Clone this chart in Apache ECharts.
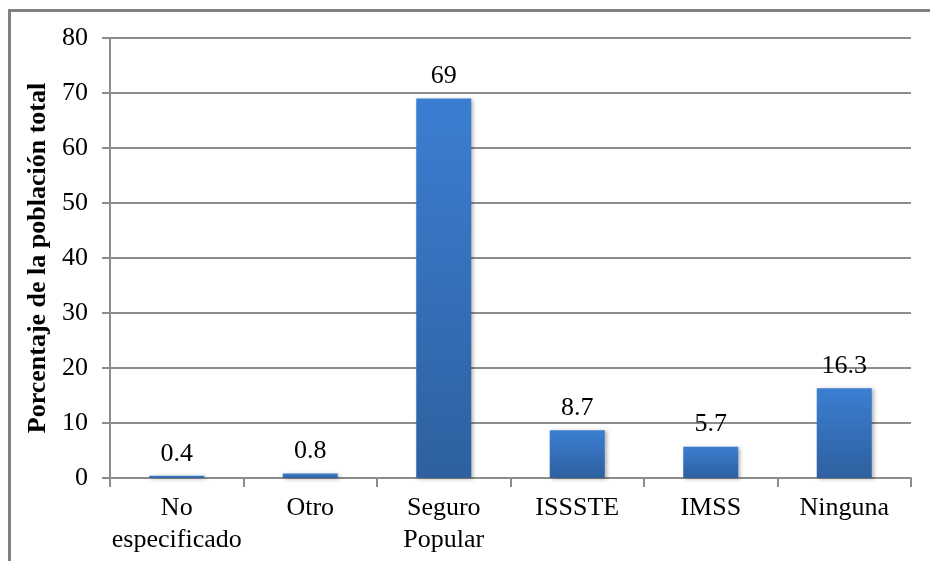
<!DOCTYPE html>
<html><head><meta charset="utf-8">
<script src="https://cdn.jsdelivr.net/npm/echarts@6/dist/echarts.min.js"></script>
<style>html,body{margin:0;padding:0;background:#fff}#c{width:930px;height:561px}</style>
</head><body><div id="c"></div>
<script>
const categories = ['No\nespecificado', 'Otro', 'Seguro\nPopular', 'ISSSTE', 'IMSS', 'Ninguna'];
const values = [0.4, 0.8, 69, 8.7, 5.7, 16.3];
const yTicks = { min: 0, max: 80, interval: 10 };
const yTitle = 'Porcentaje de la población total';

const font = '"Liberation Serif", "Times New Roman", serif';
const chart = echarts.init(document.getElementById('c'));
chart.setOption({
  animation: false,
  backgroundColor: '#fff',
  graphic: [{
    type: 'rect', shape: { x: 9.5, y: 10.5, width: 1000, height: 1000 },
    style: { fill: 'none', stroke: '#808080', lineWidth: 3 }, silent: true
  }],
  grid: { left: 110, right: 19, top: 38, bottom: 83, containLabel: false },
  xAxis: {
    type: 'category', data: categories,
    axisLine: { lineStyle: { color: '#8c8c8c', width: 2 } },
    axisTick: { show: true, length: 9, lineStyle: { color: '#8c8c8c', width: 2 } },
    axisLabel: { color: '#000', fontFamily: font, fontSize: 26, lineHeight: 32, margin: 14, interval: 0 }
  },
  yAxis: {
    type: 'value', min: yTicks.min, max: yTicks.max, interval: yTicks.interval,
    name: yTitle, nameLocation: 'middle', nameGap: 55,
    nameTextStyle: { color: '#000', fontFamily: font, fontSize: 26, fontWeight: 'bold' },
    axisLine: { show: true, lineStyle: { color: '#8c8c8c', width: 2 } },
    axisTick: { show: true, length: 8, lineStyle: { color: '#8c8c8c', width: 2 } },
    axisLabel: { color: '#000', fontFamily: font, fontSize: 26, margin: 22 },
    splitLine: { lineStyle: { color: '#8c8c8c', width: 2 } }
  },
  series: [{
    type: 'bar', data: values, barWidth: 55,
    itemStyle: {
      color: new echarts.graphic.LinearGradient(0, 0, 0, 1, [
        { offset: 0, color: '#3b7ed2' }, { offset: 1, color: '#2e609f' }
      ]),
      shadowColor: 'rgba(0,0,0,0.3)', shadowBlur: 4, shadowOffsetX: 2, shadowOffsetY: 1
    },
    label: { show: true, position: 'top', distance: 9, color: '#000', fontFamily: font, fontSize: 26 }
  }]
});
</script></body></html>
